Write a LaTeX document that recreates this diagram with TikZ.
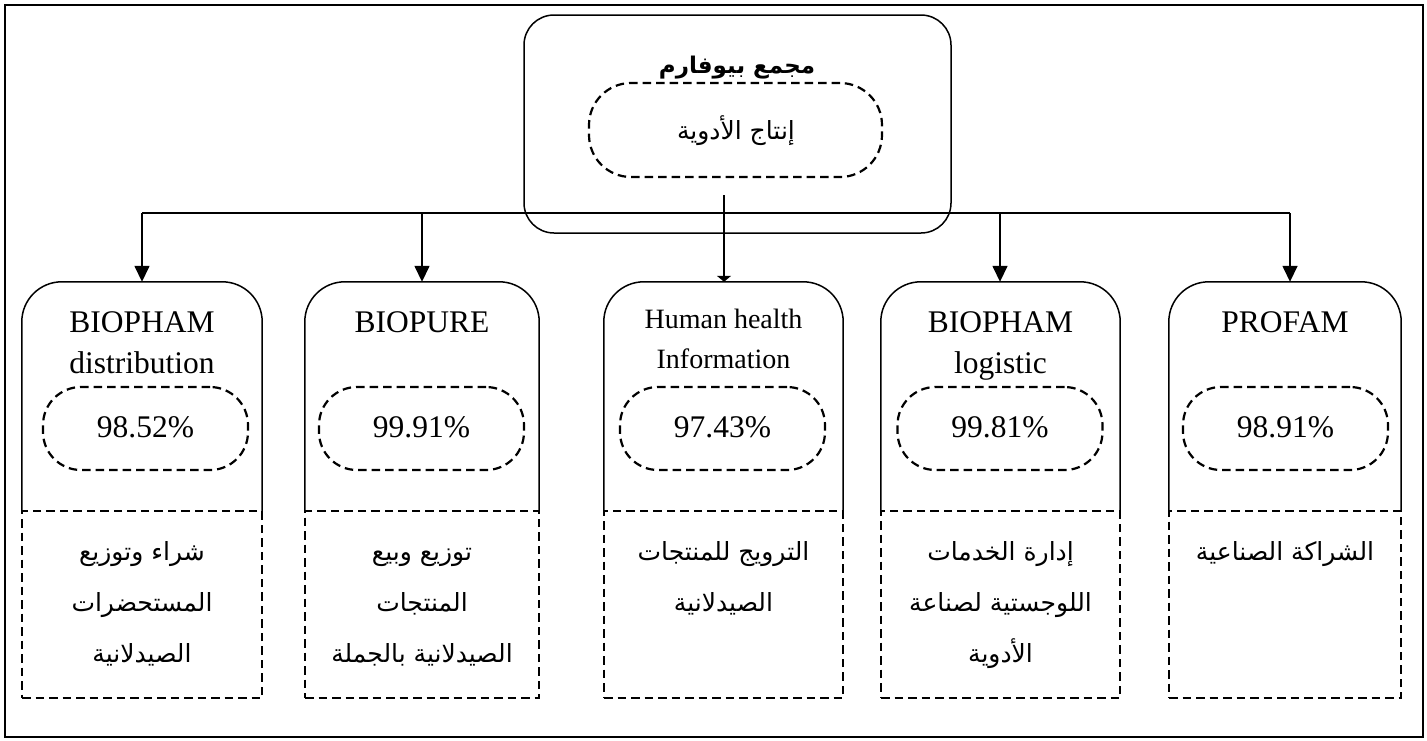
\documentclass[tikz,border=0pt]{standalone}
\usepackage{fontspec}
\setmainfont{Liberation Serif}
\newfontfamily\arabicfont[Script=Arabic]{DejaVu Sans}
\TeXXeTstate=1
\usetikzlibrary{arrows.meta}
\tikzset{
  solidline/.style={line width=1.5pt},
  dashline/.style={line width=2.2pt, dash pattern=on 8.5pt off 5pt},
  lat/.style={font=\fontsize{31.5}{36}\selectfont, anchor=base, inner sep=0pt},
  latsmall/.style={font=\fontsize{28}{32}\selectfont, anchor=base, inner sep=0pt},
  ar/.style={font=\arabicfont\fontsize{25}{30}\selectfont, anchor=base, inner sep=0pt},
  artitle/.style={font=\arabicfont\bfseries\fontsize{23}{28}\selectfont, anchor=base, inner sep=0pt},
  pill/.style={draw, dashline, rounded corners=38pt, minimum width=205pt, minimum height=83pt, inner sep=0pt},
  headbox/.style={minimum width=#1, minimum height=229pt, inner sep=0pt},
  footbox/.style={draw, dashline, minimum width=#1, minimum height=187pt, inner sep=0pt},
  arrowtip/.style={solidline, -{Triangle[length=16pt,width=15pt]}},
  headline/.style={solidline, rounded corners=40pt}
}
\begin{document}
\begin{tikzpicture}[x=1pt,y=-1pt]
\useasboundingbox (0,0) rectangle (1427,740);
% frame
\node[draw, solidline, minimum width=1418pt, minimum height=732pt, inner sep=0pt] (frame) at (714,371) {};

% top box
\node[draw, solidline, rounded corners=30pt, minimum width=427pt, minimum height=218pt, inner sep=0pt] (top) at (737.5,124) {};
\node[draw, dashline, rounded corners=42pt, minimum width=293pt, minimum height=94pt, inner sep=0pt] (topin) at (735.5,130) {};
\node[artitle] (toptitle) at (737,73) {\beginR مجمع بيوفارم\endR};
\node[ar] (topintext) at (736,139) {\beginR إنتاج الأدوية\endR};

% column head boxes
\node[headbox=240pt] (c1) at (142,396.5) {};
\node[headbox=234pt] (c2) at (422,396.5) {};
\node[headbox=239pt] (c3) at (723.5,396.5) {};
\node[headbox=239pt] (c4) at (1000.5,396.5) {};
\node[headbox=232pt] (c5) at (1285,396.5) {};
\foreach \c in {c1,c2,c3,c4,c5}{
  \draw[headline] (\c.south west) -- (\c.north west) -- (\c.north east) -- (\c.south east);
}

% column foot boxes
\node[footbox=240pt] (d1) at (142,604.5) {};
\node[footbox=234pt] (d2) at (422,604.5) {};
\node[footbox=239pt] (d3) at (723.5,604.5) {};
\node[footbox=239pt] (d4) at (1000.5,604.5) {};
\node[footbox=232pt] (d5) at (1285,604.5) {};

% percentage pills
\node[pill] (p1) at (145.5,428.5) {};
\node[pill] (p2) at (421.5,428.5) {};
\node[pill] (p3) at (722.5,428.5) {};
\node[pill] (p4) at (1000,428.5) {};
\node[pill] (p5) at (1285.5,428.5) {};
\node[lat] (q1) at (145.5,437) {98.52\%};
\node[lat] (q2) at (421.5,437) {99.91\%};
\node[lat] (q3) at (722.5,437) {97.43\%};
\node[lat] (q4) at (1000,437) {99.81\%};
\node[lat] (q5) at (1285.5,437) {98.91\%};

% head titles
\node[lat] (n1a) at (142,332) {BIOPHAM};
\node[lat] (n1b) at (142,373) {distribution};
\node[lat] (n2a) at (422,332) {BIOPURE};
\node[latsmall] (n3a) at (723.5,328) {Human health};
\node[latsmall] (n3b) at (723.5,368) {Information};
\node[lat] (n4a) at (1000.5,332) {BIOPHAM};
\node[lat] (n4b) at (1000.5,373) {logistic};
\node[lat] (n5a) at (1285,332) {PROFAM};

% arabic descriptions
\node[ar] (a1a) at (142,560) {\beginR شراء وتوزيع\endR};
\node[ar] (a1b) at (142,611) {\beginR المستحضرات\endR};
\node[ar] (a1c) at (142,662) {\beginR الصيدلانية\endR};
\node[ar] (a2a) at (422,560) {\beginR توزيع وبيع\endR};
\node[ar] (a2b) at (422,611) {\beginR المنتجات\endR};
\node[ar] (a2c) at (422,662) {\beginR الصيدلانية بالجملة\endR};
\node[ar] (a3a) at (723.5,560) {\beginR الترويج للمنتجات\endR};
\node[ar] (a3b) at (723.5,611) {\beginR الصيدلانية\endR};
\node[ar] (a4a) at (1000.5,560) {\beginR إدارة الخدمات\endR};
\node[ar] (a4b) at (1000.5,611) {\beginR اللوجستية لصناعة\endR};
\node[ar] (a4c) at (1000.5,662) {\beginR الأدوية\endR};
\node[ar] (a5a) at (1285,560) {\beginR الشراكة الصناعية\endR};

% connectors
\coordinate (h1) at (142,213);
\coordinate (h2) at (422,213);
\coordinate (h4) at (1000,213);
\coordinate (h5) at (1290,213);
\coordinate (vs) at (724,195);
\draw[solidline] (h1) -- (h5);
\draw[arrowtip] (h1) -- (h1 |- c1.north);
\draw[arrowtip] (h2) -- (h2 |- c2.north);
\draw[arrowtip] (h4) -- (h4 |- c4.north);
\draw[arrowtip] (h5) -- (h5 |- c5.north);
\draw[solidline, -{Triangle[length=6pt,width=14pt]}] (vs) -- (vs |- c3.north);
\end{tikzpicture}
\end{document}
